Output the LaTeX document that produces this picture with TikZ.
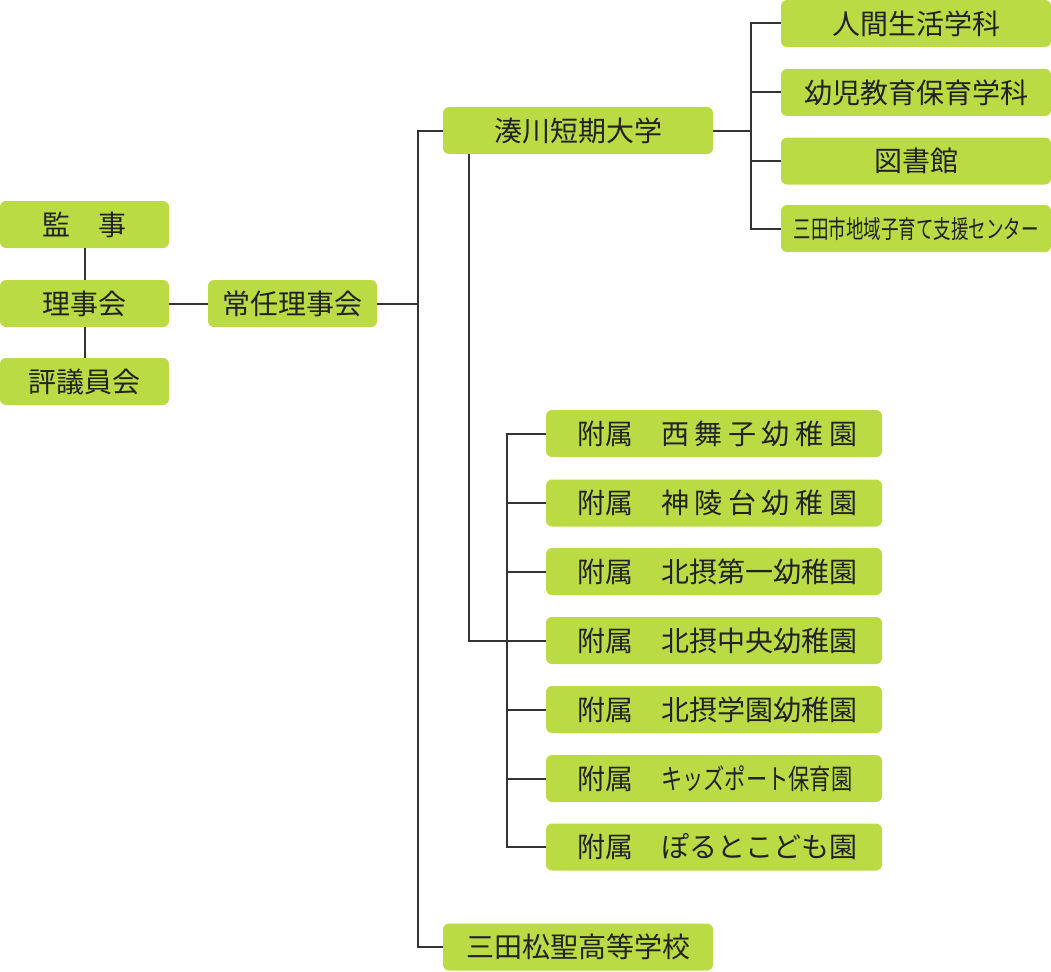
\documentclass[tikz,border=0pt]{standalone}
\usepackage{fontspec}
\setmainfont{Noto Sans CJK JP}
\newfontfamily\condensed[FakeStretch=0.7]{Noto Sans CJK JP}
\newfontfamily\kanafont[FakeStretch=0.76]{Noto Sans CJK JP}
\definecolor{boxgreen}{HTML}{BBDB44}
\definecolor{linegray}{HTML}{333333}
\definecolor{textdark}{HTML}{222222}
\begin{document}
\begin{tikzpicture}[x=1pt,y=-1pt,
  box/.style={fill=boxgreen, rounded corners=6pt, minimum height=47pt, inner sep=0pt,
    text=textdark, font=\fontsize{28}{32}\selectfont},
  wsmall/.style={box, minimum width=169pt},
  wmid/.style={box, minimum width=270pt},
  kbox/.style={box, minimum width=336pt, text width=274pt, align=left, inner xsep=31pt},
  conn/.style={draw=linegray, line width=2pt}]
\useasboundingbox (0,0) rectangle (1051,971);

% left group
\node[wsmall] (kanji) at (84.5,224.5) {監　事};
\node[wsmall] (riji)  at (84.5,303.5) {理事会};
\node[wsmall] (hyogi) at (84.5,381.5) {評議員会};
\node[wsmall] (jonin) at (292.5,303.5) {常任理事会};

% second column
\node[wmid] (minato) at (578,130.5) {湊川短期大学};
\node[wmid] (sanda)  at (578,947) {三田松聖高等学校};

% right column
\node[wmid] (r1) at (916,23.5) {人間生活学科};
\node[wmid] (r2) at (916,92.5) {幼児教育保育学科};
\node[wmid] (r3) at (916,161) {図書館};
\node[wmid] (r4) at (916,228.5) {\condensed\fontsize{25}{28}\selectfont 三田市地域子育て支援センター};

% kindergartens
\node[kbox] (k1) at (714,433.5) {\mbox{附属　西\hspace{5.6pt}舞\hspace{5.6pt}子\hspace{5.6pt}幼\hspace{5.6pt}稚\hspace{5.6pt}園}};
\node[kbox] (k2) at (714,503)   {\mbox{附属　神\hspace{5.6pt}陵\hspace{5.6pt}台\hspace{5.6pt}幼\hspace{5.6pt}稚\hspace{5.6pt}園}};
\node[kbox] (k3) at (714,571.5) {\mbox{附属　北摂第一幼稚園}};
\node[kbox] (k4) at (714,640.5) {\mbox{附属　北摂中央幼稚園}};
\node[kbox] (k5) at (714,709.5) {\mbox{附属　北摂学園幼稚園}};
\node[kbox] (k6) at (714,778.5) {\mbox{附属　{\kanafont キッズポート保育園}}};
\node[kbox] (k7) at (714,847)   {\mbox{附属　ぽるとこども園}};

% connectors
\coordinate (trunk) at (418,303.5);
\coordinate (rbus)  at (751,130.5);
\coordinate (mdrop) at (469,154);
\coordinate (kx)    at (507,640.5);

\draw[conn] (kanji.south) -- (riji.north);
\draw[conn] (riji.south) -- (hyogi.north);
\draw[conn] (riji.east) -- (jonin.west);
\draw[conn] (jonin.east) -- (trunk);
\draw[conn] (minato.west) -| (trunk) |- (sanda.west);

\draw[conn] (minato.east) -- (rbus);
\draw[conn] (r1.west) -| (rbus) |- (r4.west);
\draw[conn] (r2.west) -- (rbus |- r2.west);
\draw[conn] (r3.west) -- (rbus |- r3.west);

\draw[conn] (mdrop) |- (k4.west);
\draw[conn] (k1.west) -| (kx) |- (k7.west);
\draw[conn] (kx |- k2.west) -- (k2.west);
\draw[conn] (kx |- k3.west) -- (k3.west);
\draw[conn] (kx |- k5.west) -- (k5.west);
\draw[conn] (kx |- k6.west) -- (k6.west);
\end{tikzpicture}
\end{document}
